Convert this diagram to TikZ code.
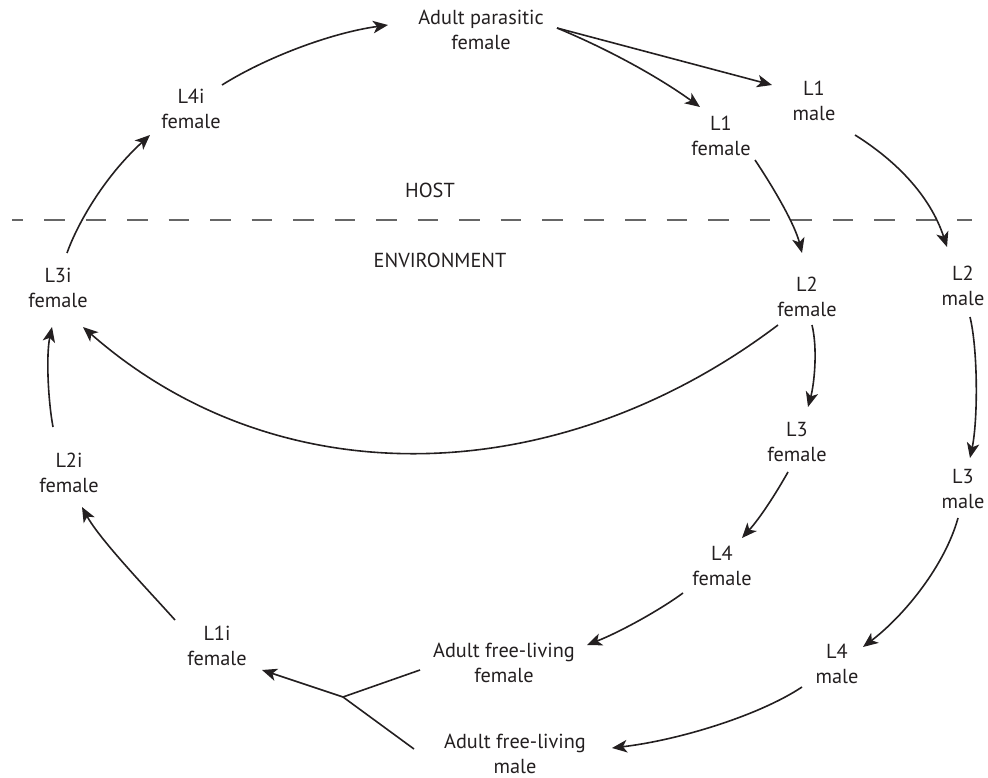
\documentclass[tikz,border=0pt]{standalone}
\usepackage{fontspec}
\setmainfont{PT Sans}
\usetikzlibrary{arrows.meta,calc}
\definecolor{ink}{HTML}{231F20}
\definecolor{rule}{HTML}{666666}
\tikzset{
  stage/.style={inner sep=0pt, align=center, text=ink,
    font=\fontsize{20.3}{25}\selectfont},
  zone/.style={inner sep=0pt, text=ink, font=\fontsize{20.3}{25}\selectfont},
  arr/.style={draw=ink, line width=1.6pt,
    -{Stealth[length=15pt,width=12.5pt,inset=4pt]}},
  seg/.style={draw=ink, line width=1.6pt},
  border/.style={draw=rule, line width=1.5pt,
    dash pattern=on 20.5pt off 21pt, dash phase=9.5pt}
}
\begin{document}
\begin{tikzpicture}[x=1pt,y=-1pt]
\useasboundingbox (0,0) rectangle (988,778);

% life-cycle stages
\node[stage] (AP)  at (481,30)  {Adult parasitic\\female};
\node[stage] (L4i) at (191,109) {L4i\\female};
\node[stage] (L1m) at (814,101) {L1\\male};
\node[stage] (L1f) at (721,136) {L1\\female};
\node[stage] (L2f) at (807,297) {L2\\female};
\node[stage] (L2m) at (963,286) {L2\\male};
\node[stage] (L3f) at (797,442) {L3\\female};
\node[stage] (L3m) at (963,489) {L3\\male};
\node[stage] (L4f) at (722,566) {L4\\female};
\node[stage] (L4m) at (837,664) {L4\\male};
\node[stage] (AFf) at (504,663) {Adult free-living\\female};
\node[stage] (AFm) at (515,754) {Adult free-living\\male};
\node[stage] (L1i) at (217,646) {L1i\\female};
\node[stage] (L2i) at (69,473)  {L2i\\female};
\node[stage] (L3i) at (58,288)  {L3i\\female};

% host / environment boundary
\node[zone] (host) at (430,190) {HOST};
\node[zone] (env)  at (440,260) {ENVIRONMENT};
\coordinate (bL) at (12,220);
\coordinate (bR) at (972,220);
\draw[border] (bL) -- (bR);

% parasitic generation
\draw[arr] ($(L4i)+(31,-24)$) .. controls (265,58) and (330,33) .. ($(AP)+(-93,-5)$);
\draw[arr] ($(AP)+(76,-2)$) -- ($(L1m)+(-42,-16)$);
\draw[arr] ($(AP)+(76,-2)$) .. controls (610,50) and (660,78) .. ($(L1f)+(-21,-29)$);

% female line
\draw[arr] ($(L1f)+(34,24)$) .. controls (775,190) and (795,225) .. ($(L2f)+(-5,-44)$);
\draw[arr] ($(L2f)+(5,28)$) .. controls (818,350) and (814,385) .. ($(L3f)+(11,-35)$);
\draw[arr] ($(L3f)+(-9,30)$) .. controls (775,495) and (760,518) .. ($(L4f)+(20,-28)$);
\draw[arr] ($(L4f)+(-39,27)$) .. controls (660,610) and (620,632) .. ($(AFf)+(83,-18)$);

% male line
\draw[arr] ($(L1m)+(41,34)$) .. controls (895,160) and (930,195) .. ($(L2m)+(-16,-39)$);
\draw[arr] ($(L2m)+(7,31)$) .. controls (978,350) and (978,420) .. ($(L3m)+(7,-31)$);
\draw[arr] ($(L3m)+(-5,29)$) .. controls (945,565) and (905,615) .. ($(L4m)+(26,-17)$);
\draw[arr] ($(L4m)+(-35,23)$) .. controls (760,715) and (680,740) .. ($(AFm)+(97,-6)$);

% direct development
\draw[arr] ($(L2f)+(-29,28)$) .. controls (560,490) and (280,500) .. ($(L3i)+(25,39)$);

% mating and the infective line
\coordinate (J) at (343,697);
\draw[seg] ($(AFf)+(-84,7)$) -- (J);
\draw[seg] ($(AFm)+(-101,-5)$) -- (J);
\draw[arr] (J) -- ($(L1i)+(45,24)$);
\draw[arr] ($(L1i)+(-42,-26)$) .. controls (150,592) and (100,540) .. ($(L2i)+(13,34)$);
\draw[arr] ($(L2i)+(-16,-46)$) .. controls (48,400) and (46,355) .. ($(L3i)+(-6,39)$);
\draw[arr] ($(L3i)+(9,-35)$) .. controls (77,225) and (103,178) .. ($(L4i)+(-41,26)$);
\end{tikzpicture}
\end{document}
